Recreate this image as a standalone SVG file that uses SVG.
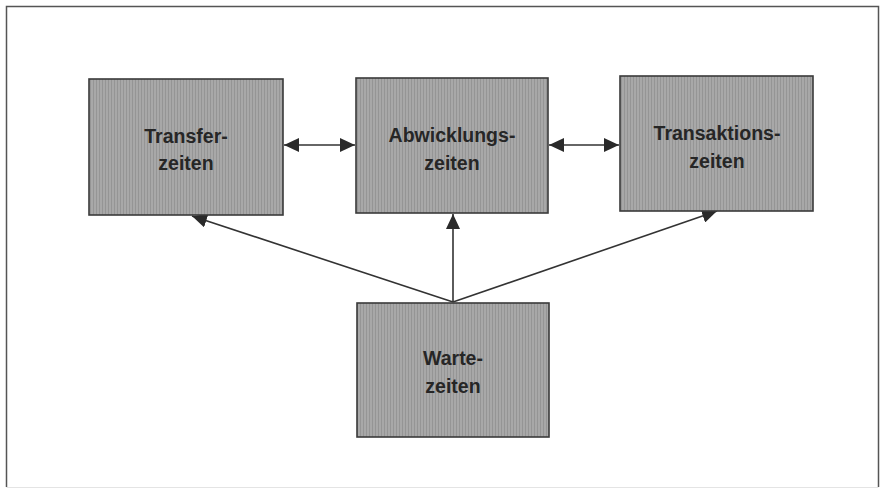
<svg xmlns="http://www.w3.org/2000/svg" width="880" height="490" viewBox="0 0 880 490">
  <style>
    .box { fill: url(#stripes); stroke: #3a3a3a; stroke-width: 1.6; }
    .lbl { font-family: "Liberation Sans", Arial, sans-serif; font-weight: bold; font-size: 19.5px; fill: #262626; text-anchor: middle; }
    .con { stroke: #333; stroke-width: 1.6; fill: none; }
  </style>
  <defs>
    <pattern id="stripes" patternUnits="userSpaceOnUse" width="3" height="3">
      <rect width="3" height="3" fill="#a8a8a8"/>
      <rect width="1" height="3" fill="#959595"/>
    </pattern>
    <marker id="ah" viewBox="0 0 15 14" refX="15" refY="7" markerWidth="15" markerHeight="14" markerUnits="userSpaceOnUse" orient="auto-start-reverse">
      <path d="M0,0 L15,7 L0,14 Z" fill="#2a2a2a"/>
    </marker>
  </defs>
  <rect width="880" height="490" fill="#ffffff"/>
  <path d="M6.5,487 L6.5,6.5 L878.5,6.5 L878.5,487" fill="none" stroke="#555" stroke-width="1.5"/>
  <path d="M6.5,487.5 L878.5,487.5" fill="none" stroke="#e4e4e4" stroke-width="1"/>

  <g id="connectors">
    <line class="con" x1="284" y1="145" x2="355" y2="145" marker-start="url(#ah)" marker-end="url(#ah)"/>
    <line class="con" x1="549" y1="145" x2="619" y2="145" marker-start="url(#ah)" marker-end="url(#ah)"/>
    <line class="con" x1="453" y1="302" x2="192" y2="216" marker-end="url(#ah)"/>
    <line class="con" x1="453" y1="302" x2="453" y2="214" marker-end="url(#ah)"/>
    <line class="con" x1="453" y1="302" x2="717" y2="211" marker-end="url(#ah)"/>
  </g>

  <g id="transfer">
    <rect class="box" x="89" y="79" width="194" height="136"/>
    <text class="lbl" x="186" y="143">Transfer-</text>
    <text class="lbl" x="186" y="170">zeiten</text>
  </g>
  <g id="abwicklung">
    <rect class="box" x="356" y="78" width="192" height="135"/>
    <text class="lbl" x="452" y="142">Abwicklungs-</text>
    <text class="lbl" x="452" y="170">zeiten</text>
  </g>
  <g id="transaktion">
    <rect class="box" x="620" y="76" width="193" height="135"/>
    <text class="lbl" x="717" y="140">Transaktions-</text>
    <text class="lbl" x="717" y="168">zeiten</text>
  </g>
  <g id="warte">
    <rect class="box" x="357" y="303" width="192" height="134"/>
    <text class="lbl" x="453" y="365">Warte-</text>
    <text class="lbl" x="453" y="393">zeiten</text>
  </g>
</svg>
